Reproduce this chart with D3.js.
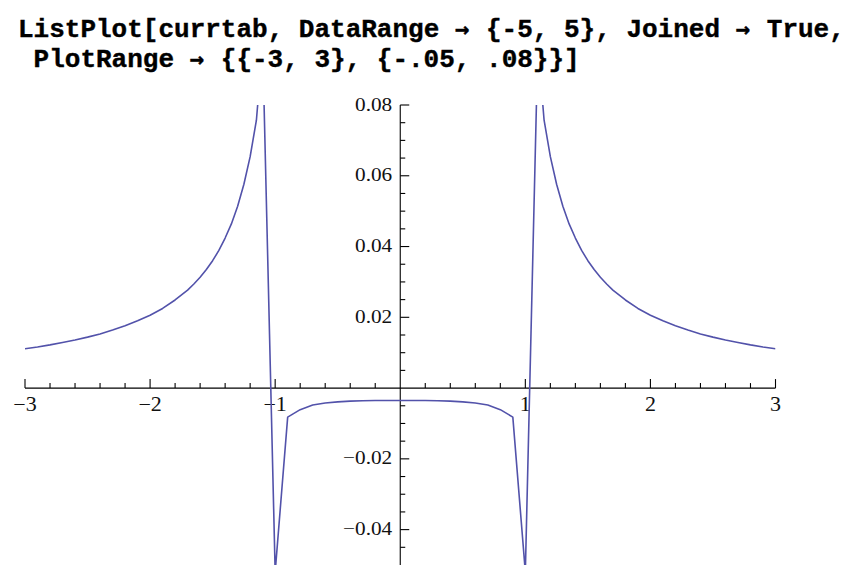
<!DOCTYPE html>
<html>
<head>
<meta charset="utf-8">
<script src="https://cdn.jsdelivr.net/npm/d3@7/dist/d3.min.js"></script>
<style>
  html, body { margin: 0; padding: 0; background: #fff; }
  svg { display: block; }
</style>
</head>
<body>
<script>
// Input cell shown above the graphic
const inputLines = [
  "ListPlot[currtab, DataRange \u2192 {-5, 5}, Joined \u2192 True,",
  " PlotRange \u2192 {{-3, 3}, {-.05, .08}}]"
];

// Sampled table (x positions and values), joined as a polyline
const xs = [
  -3.0, -2.9, -2.8, -2.7, -2.6, -2.5, -2.4, -2.3, -2.2, -2.1,
  -2.0, -1.9, -1.8, -1.7, -1.65, -1.6, -1.55, -1.5, -1.45, -1.4,
  -1.35, -1.3, -1.25, -1.2, -1.15, -1.1,
  -1.0, -0.9, -0.8, -0.7, -0.6, -0.5, -0.4, -0.3, -0.2, -0.1,
   0.0,
   0.1,  0.2,  0.3,  0.4,  0.5,  0.6,  0.7,  0.8,  0.9,  1.0,
   1.1,  1.15, 1.2,  1.25, 1.3,  1.35, 1.4,  1.45, 1.5,  1.55,
   1.6,  1.65, 1.7,  1.8,  1.9,  2.0,
   2.1,  2.2,  2.3,  2.4,  2.5,  2.6,  2.7,  2.8,  2.9,  3.0
];
const values = [
  0.0111, 0.0116, 0.0122, 0.0129, 0.0136, 0.0144, 0.0153, 0.0164, 0.0176, 0.0190,
  0.0206, 0.0225, 0.0249, 0.0277, 0.0294, 0.0313, 0.0335, 0.0360, 0.0389, 0.0424,
  0.0464, 0.0514, 0.0576, 0.0654, 0.0757, 0.0970,
  -0.0520, -0.0082, -0.0061, -0.0048, -0.0042, -0.0039, -0.0037, -0.0036, -0.0035, -0.0035,
  -0.0035,
  -0.0035, -0.0035, -0.0036, -0.0037, -0.0039, -0.0042, -0.0048, -0.0061, -0.0082, -0.0520,
  0.0970, 0.0757, 0.0654, 0.0576, 0.0514, 0.0464, 0.0424, 0.0389, 0.0360, 0.0335,
  0.0313, 0.0294, 0.0277, 0.0249, 0.0225, 0.0206,
  0.0190, 0.0176, 0.0164, 0.0153, 0.0144, 0.0136, 0.0129, 0.0122, 0.0116, 0.0111
];

// Axis ticks
const xMajor = [-3, -2, -1, 1, 2, 3];
const xLabels = ["\u22123", "\u22122", "\u22121", "1", "2", "3"];
const yMajor = [-0.04, -0.02, 0.02, 0.04, 0.06, 0.08];
const yLabels = ["\u22120.04", "\u22120.02", "0.02", "0.04", "0.06", "0.08"];

const W = 858, H = 565;
const xDomain = [-3, 3], yDomain = [-0.05, 0.08];

const svg = d3.select("body").append("svg")
  .attr("width", W).attr("height", H)
  .style("background", "#fff");

// Input text; the rule arrows use a face with a heavier arrow glyph
const codeFont = "'Liberation Mono', 'DejaVu Sans Mono', monospace";
const arrowFont = "'DejaVu Sans Mono', monospace";
const charW = 15.6;
const lineSel = svg.append("g").selectAll("text")
  .data(inputLines)
  .join("text")
  .attr("x", 18)
  .attr("y", (d, i) => 37 + i * 30)
  .attr("font-family", codeFont)
  .attr("font-weight", "bold")
  .attr("font-size", 26)
  .attr("fill", "#000")
  .attr("stroke", "#000")
  .attr("stroke-width", 0.4)
  .attr("xml:space", "preserve")
  .style("white-space", "pre");

lineSel.each(function(line) {
  const t = d3.select(this);
  const parts = line.split(/(\u2192)/);
  let col = 0;
  parts.forEach(p => {
    if (!p.length) return;
    const span = t.append("tspan")
      .attr("x", 18 + col * charW)
      .text(p);
    if (p === "\u2192") span.attr("font-family", arrowFont).attr("font-size", 24);
    col += p.length;
  });
});

const x = d3.scaleLinear().domain(xDomain).range([25, 775.5]);
const y = d3.scaleLinear().domain(yDomain).range([565, 105]);

// Minor tick positions
const xMinor = d3.range(-30, 31, 2).map(k => k / 10).filter(v => !xMajor.includes(v) && v !== 0);
const yMinor = d3.range(-9, 17).map(k => k * 0.005).filter(v => Math.abs(v) > 1e-9 && !yMajor.some(m => Math.abs(m - v) < 1e-9));

const axes = svg.append("g").attr("stroke", "#000").attr("stroke-width", 1.1);

// Horizontal axis
const ax = axes.append("g").attr("transform", `translate(0,${y(0)})`);
ax.append("line").attr("x1", x(-3)).attr("x2", x(3)).attr("y1", 0).attr("y2", 0);
ax.selectAll(".maj").data(xMajor).join("line")
  .attr("x1", d => x(d)).attr("x2", d => x(d)).attr("y1", 0).attr("y2", -9);
ax.selectAll(".min").data(xMinor).join("line")
  .attr("x1", d => x(d)).attr("x2", d => x(d)).attr("y1", 0).attr("y2", -5);

// Vertical axis
const ay = axes.append("g").attr("transform", `translate(${x(0)},0)`);
ay.append("line").attr("x1", 0).attr("x2", 0).attr("y1", y(0.08)).attr("y2", y(-0.05));
ay.selectAll(".maj").data(yMajor).join("line")
  .attr("x1", 0).attr("x2", 9).attr("y1", d => y(d)).attr("y2", d => y(d));
ay.selectAll(".min").data(yMinor).join("line")
  .attr("x1", 0).attr("x2", 5).attr("y1", d => y(d)).attr("y2", d => y(d));

// Tick labels
const labelFont = "'Liberation Serif', 'DejaVu Serif', serif";
svg.append("g").selectAll("text")
  .data(xMajor)
  .join("text")
  .attr("transform", d => `translate(${x(d)},${y(0) + 23}) scale(1.1,1)`)
  .attr("text-anchor", "middle")
  .attr("font-family", labelFont)
  .attr("font-size", 20)
  .attr("fill", "#111")
  .text((d, i) => xLabels[i]);

svg.append("g").selectAll("text")
  .data(yMajor)
  .join("text")
  .attr("transform", d => `translate(${x(0) - 8},${y(d) + 5.5}) scale(1.15,1)`)
  .attr("text-anchor", "end")
  .attr("font-family", labelFont)
  .attr("font-size", 18.5)
  .attr("fill", "#111")
  .text((d, i) => yLabels[i]);

// Joined data line, clipped to the plot range
svg.append("clipPath").attr("id", "plotClip")
  .append("rect")
  .attr("x", x(-3)).attr("y", y(0.08))
  .attr("width", x(3) - x(-3)).attr("height", y(-0.05) - y(0.08));

const pts = xs.map((v, i) => [v, values[i]]);
svg.append("path")
  .datum(pts)
  .attr("clip-path", "url(#plotClip)")
  .attr("fill", "none")
  .attr("stroke", "#5252aa")
  .attr("stroke-width", 1.6)
  .attr("stroke-linejoin", "round")
  .attr("d", d3.line().x(d => x(d[0])).y(d => y(d[1])));
</script>
</body>
</html>
